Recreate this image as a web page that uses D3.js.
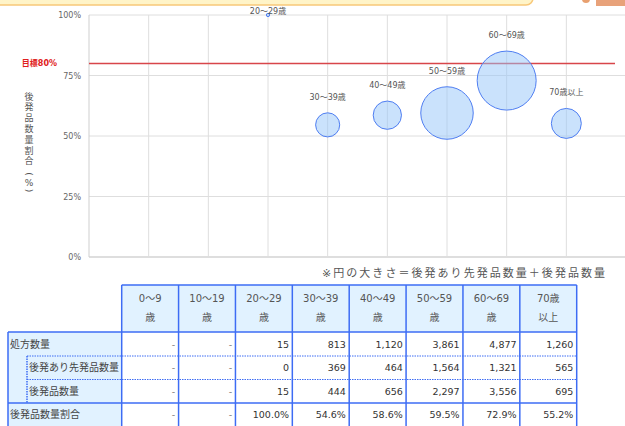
<!DOCTYPE html>
<html>
<head>
<meta charset="utf-8">
<script src="https://cdn.jsdelivr.net/npm/d3@7"></script>
<style>
  body { margin: 0; overflow: hidden; background: #fff; }
  svg text { font-family: "DejaVu Sans", "Noto Sans CJK JP", sans-serif; }
</style>
</head>
<body>
<div id="chart"></div>
<script>
// age groups, values
const categories = ['0～9歳', '10～19歳', '20～29歳', '30～39歳', '40～49歳', '50～59歳', '60～69歳', '70歳以上'];
const headerLines = [['0～9', '歳'], ['10～19', '歳'], ['20～29', '歳'], ['30～39', '歳'], ['40～49', '歳'], ['50～59', '歳'], ['60～69', '歳'], ['70歳', '以上']];
const prescribed = [null, null, 15, 813, 1120, 3861, 4877, 1260];
const brandWithGeneric = [null, null, 0, 369, 464, 1564, 1321, 565];
const generic = [null, null, 15, 444, 656, 2297, 3556, 695];
const genericRatio = [null, null, 100.0, 54.6, 58.6, 59.5, 72.9, 55.2];
const yTicks = [0, 25, 50, 75, 100];
const target = 80;

const W = 625, H = 426;
const svg = d3.select('#chart').append('svg')
    .attr('width', W)
    .attr('height', H);

// page decoration at the very top
svg.append('rect')
    .attr('x', -12).attr('y', -12).attr('width', 545).attr('height', 17).attr('rx', 7)
    .attr('fill', '#fff4c8').attr('stroke', '#f8c878').attr('stroke-width', 1.5);
svg.append('circle').attr('cx', 586).attr('cy', -1).attr('r', 4).attr('fill', '#e8a070');
svg.append('rect').attr('x', 596).attr('y', 0).attr('width', 30).attr('height', 6).attr('fill', '#e8a27a');

const x = d3.scaleLinear().domain([-1, 8]).range([89, 626]);
const y = d3.scaleLinear().domain([0, 100]).range([257, 15]);
const r = d3.scaleSqrt().domain([0, 4877]).range([0, 29.5]);

// grid
svg.append('g').selectAll('line')
    .data(yTicks)
    .join('line')
    .attr('x1', 89).attr('x2', W)
    .attr('y1', d => y(d)).attr('y2', d => y(d))
    .attr('stroke', '#dedede')
    .attr('stroke-width', d => d === 0 ? 2 : 1);

svg.append('g').selectAll('line')
    .data(categories)
    .join('line')
    .attr('x1', (d, i) => x(i)).attr('x2', (d, i) => x(i))
    .attr('y1', y(100)).attr('y2', y(0))
    .attr('stroke', '#dedede');

svg.append('line')
    .attr('x1', 89).attr('x2', 89).attr('y1', y(100)).attr('y2', y(0))
    .attr('stroke', '#cfcfcf');

svg.append('g').selectAll('text')
    .data(yTicks)
    .join('text')
    .attr('x', 81).attr('y', d => y(d) + 3)
    .attr('text-anchor', 'end')
    .attr('font-size', 8).attr('fill', '#666')
    .text(d => d + '%');

// target line
svg.append('line')
    .attr('x1', 89).attr('x2', 615)
    .attr('y1', y(target)).attr('y2', y(target))
    .attr('stroke', '#d8464a').attr('stroke-width', 1.5);
svg.append('text')
    .attr('x', 57).attr('y', y(target) + 3)
    .attr('text-anchor', 'end')
    .attr('font-size', 8).attr('font-weight', 'bold').attr('fill', '#e02020')
    .text('目標' + target + '%');

// y title, stacked one character per line; brackets turned sideways and packed tighter
const titleChars = Array.from('後発品数量割合(%)');
const titleY = [96.5, 107.3, 118.1, 128.9, 139.7, 150.5, 161.3, 174, 182.5, 190.5];
svg.append('g').selectAll('text')
    .data(titleChars)
    .join('text')
    .attr('text-anchor', 'middle')
    .attr('dominant-baseline', 'central')
    .attr('font-size', 9).attr('fill', '#555')
    .attr('transform', (d, k) => {
        const t = `translate(29,${titleY[k]})`;
        return (d === '(' || d === ')') ? t + ' rotate(90)' : t;
    })
    .text(d => d);

// bubbles
const pts = categories.map((c, i) => ({
    cat: c, i,
    size: brandWithGeneric[i] == null ? null : brandWithGeneric[i] + generic[i],
    ratio: genericRatio[i]
})).filter(d => d.size != null);

svg.append('g').selectAll('circle')
    .data(pts)
    .join('circle')
    .attr('cx', d => x(d.i))
    .attr('cy', d => y(d.ratio))
    .attr('r', d => Math.max(r(d.size), 1))
    .attr('fill', 'rgba(150,198,250,0.5)')
    .attr('stroke', '#4f7ef2').attr('stroke-width', 1);

svg.append('g').selectAll('text')
    .data(pts)
    .join('text')
    .attr('x', d => x(d.i))
    .attr('y', d => Math.max(y(d.ratio) - r(d.size) - 13, 14))
    .attr('text-anchor', 'middle')
    .attr('font-size', 8).attr('fill', '#555')
    .text(d => d.cat);

svg.append('text')
    .attr('x', 322).attr('y', 277)
    .attr('font-size', 11).attr('fill', '#555')
    .attr('textLength', 283).attr('lengthAdjust', 'spacing')
    .text('※円の大きさ＝後発あり先発品数量＋後発品数量');

// table
const col = d3.scaleBand().domain(categories).range([121.7, 576.7]);
const rowTop = [285, 332, 356, 379.5, 403, 426.5];
const border = '#3d6cf4';
const headBg = '#e1f2ff';
const left = 8, right = col.range()[1];

const tbl = svg.append('g');

tbl.selectAll('rect.head')
    .data(categories)
    .join('rect')
    .attr('class', 'head')
    .attr('x', d => col(d)).attr('y', rowTop[0])
    .attr('width', col.bandwidth()).attr('height', rowTop[1] - rowTop[0])
    .attr('fill', headBg);
tbl.append('rect')
    .attr('x', left).attr('y', rowTop[1])
    .attr('width', col.range()[0] - left).attr('height', H - rowTop[1])
    .attr('fill', headBg);

headerLines.forEach((lines, i) => {
    lines.forEach((t, k) => {
        tbl.append('text')
            .attr('x', col(categories[i]) + col.bandwidth() / 2)
            .attr('y', 302 + k * 18.7)
            .attr('text-anchor', 'middle')
            .attr('font-size', 10).attr('fill', '#555')
            .text(t);
    });
});

const rows = [
    { label: '処方数量', indent: false, vals: prescribed, fmt: d3.format(',') },
    { label: '後発あり先発品数量', indent: true, vals: brandWithGeneric, fmt: d3.format(',') },
    { label: '後発品数量', indent: true, vals: generic, fmt: d3.format(',') },
    { label: '後発品数量割合', indent: false, vals: genericRatio, fmt: d => d3.format('.1f')(d) + '%' }
];

rows.forEach((row, ri) => {
    const yc = (rowTop[ri + 1] + rowTop[ri + 2]) / 2;
    tbl.append('text')
        .attr('x', row.indent ? 29 : 10).attr('y', yc + 3.5)
        .attr('font-size', 10).attr('fill', '#444')
        .text(row.label);
    tbl.selectAll(null)
        .data(row.vals)
        .join('text')
        .attr('x', (d, i) => col(categories[i]) + col.bandwidth() - 3.3)
        .attr('y', yc + 3.5)
        .attr('text-anchor', 'end')
        .attr('font-size', 9.5)
        .attr('fill', d => d == null ? '#777' : '#333')
        .text(d => d == null ? '-' : row.fmt(d));
});

// solid rules
const hSolid = [
    [col.range()[0], right, rowTop[0]],
    [left, right, rowTop[1]],
    [left, right, rowTop[4]]
];
tbl.selectAll('line.h')
    .data(hSolid)
    .join('line')
    .attr('x1', d => d[0]).attr('x2', d => d[1])
    .attr('y1', d => d[2]).attr('y2', d => d[2])
    .attr('stroke', border).attr('stroke-width', 1.5);

const vEdges = [col.range()[0], ...categories.map(c => col(c) + col.bandwidth())];
tbl.selectAll('line.v')
    .data(vEdges)
    .join('line')
    .attr('x1', d => d).attr('x2', d => d)
    .attr('y1', rowTop[0]).attr('y2', H)
    .attr('stroke', border).attr('stroke-width', 1.5);
tbl.append('line')
    .attr('x1', left).attr('x2', left).attr('y1', rowTop[1]).attr('y2', H)
    .attr('stroke', border).attr('stroke-width', 1.5);

// dotted rules for the sub rows
tbl.selectAll('line.d')
    .data([rowTop[2], rowTop[3]])
    .join('line')
    .attr('x1', 27).attr('x2', right)
    .attr('y1', d => d).attr('y2', d => d)
    .attr('stroke', border).attr('stroke-width', 1).attr('stroke-dasharray', '1.5,1');
tbl.append('line')
    .attr('x1', 27).attr('x2', 27).attr('y1', rowTop[2]).attr('y2', rowTop[4])
    .attr('stroke', border).attr('stroke-width', 1.5).attr('stroke-dasharray', '1.5,1');
</script>
</body>
</html>
